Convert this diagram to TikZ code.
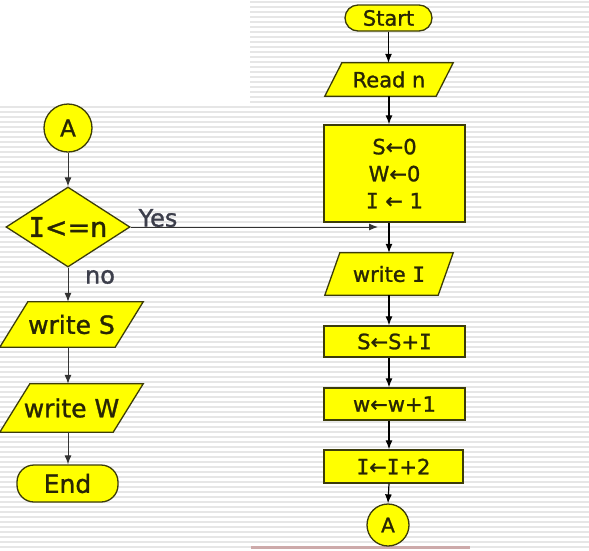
\documentclass[tikz,border=0pt]{standalone}
\usepackage{fontspec}
\setmainfont[FakeBold=1.2]{DejaVu Sans}
\newfontfamily\serifI[FakeBold=1.2]{DejaVu Sans Mono}
\usetikzlibrary{arrows.meta,shapes.geometric}
\pgfdeclarelayer{stripes}
\pgfdeclarelayer{shapesbg}
\pgfsetlayers{stripes,shapesbg,main}
\definecolor{fy}{RGB}{255,255,0}
\definecolor{edgec}{RGB}{60,60,10}
\definecolor{txtc}{RGB}{40,38,5}
\definecolor{lblc}{RGB}{60,62,75}
\definecolor{stripec}{RGB}{230,230,230}
\definecolor{pinkc}{RGB}{205,170,170}
\newcommand\Iv{{\serifI I}}
\newcommand\pgm[2]{\begin{pgfonlayer}{shapesbg}\draw[pgs] ([xshift=#2]#1.north west) -- (#1.north east) -- ([xshift=-#2]#1.south east) -- (#1.south west) -- cycle;\end{pgfonlayer}}
\tikzset{
  rfont/.style={font=\fontsize{21}{27}\selectfont},
  lfont/.style={font=\fontsize{25}{30}\selectfont},
  proc/.style={rectangle, draw=edgec, fill=fy, line width=1.3pt, inner sep=0pt, text=txtc, align=center, rfont},
  term/.style={proc, rounded corners=13pt},
  conn/.style={circle, draw=edgec, fill=fy, line width=1.3pt, inner sep=0pt, text=txtc},
  io/.style={rectangle, inner sep=0pt, text=txtc, align=center},
  pgs/.style={draw=edgec, fill=fy, line width=1.3pt, line join=miter},
  arr/.style={-{Latex[length=9pt,width=7pt]}, line width=1.2pt, black},
  larr/.style={-{Latex[length=9pt,width=7pt]}, line width=1pt, black!80},
  lbl/.style={inner sep=0pt, text=lblc, font=\fontsize{24}{28}\selectfont}
}
\begin{document}
\begin{tikzpicture}[x=1pt,y=-1pt]
\useasboundingbox (0,0) rectangle (589,550);
\begin{pgfonlayer}{stripes}
  \fill[white] (0,0) rectangle (589,550);
  \foreach \yy in {2,7,...,547} {\draw[stripec, line width=2pt] (250,\yy) -- (589,\yy);}
  \foreach \yy in {107,112,...,547} {\draw[stripec, line width=2pt] (0,\yy) -- (250,\yy);}
  \draw[pinkc, line width=2.5pt] (251,547.5) -- (470,547.5);
\end{pgfonlayer}

% right column
\node[term, minimum width=87pt, minimum height=26pt] (start) at (388.5,18) {Start};
\node[io, rfont, minimum width=128pt, minimum height=33pt] (readn) at (389,79.5) {Read n};
\pgm{readn}{17pt}
\node[proc, minimum width=141pt, minimum height=97pt] (init) at (394.5,173.5) {S←0\\W←0\\\Iv{} ← 1};
\node[io, rfont, minimum width=128pt, minimum height=42pt] (writeI) at (389,274) {write \Iv};
\pgm{writeI}{15pt}
\node[proc, minimum width=141pt, minimum height=31pt] (ssi) at (394.5,341.5) {S←S+\Iv};
\node[proc, minimum width=141pt, minimum height=32pt] (ww) at (394.5,404) {w←w+1};
\node[proc, minimum width=139pt, minimum height=33pt] (ii) at (393.5,466.5) {\Iv←\Iv+2};
\node[conn, minimum size=42pt, font=\fontsize{20}{24}\selectfont] (ar) at (388,525) {A};

\draw[arr] (start.south) -- (start.south |- readn.north);
\draw[arr] (readn.south) -- (readn.south |- init.north);
\draw[arr] (readn.south |- init.south) -- (readn.south |- writeI.north);
\draw[arr] (writeI.south) -- (writeI.south |- ssi.north);
\draw[arr] (writeI.south |- ssi.south) -- (writeI.south |- ww.north);
\draw[arr] (writeI.south |- ww.south) -- (writeI.south |- ii.north);
\draw[arr] (writeI.south |- ii.south) -- (ar.north);

% left column
\node[conn, minimum size=48pt, font=\fontsize{23}{26}\selectfont] (al) at (68,128) {A};
\node[diamond, draw=edgec, fill=fy, line width=1.3pt, inner sep=0pt, aspect=1.55, minimum width=124pt, minimum height=80pt, text=txtc, font=\fontsize{27}{30}\selectfont] (dia) at (68,227) {\Iv<=n};
\node[io, lfont, minimum width=143pt, minimum height=45pt] (writeS) at (71.5,324.5) {write S};
\pgm{writeS}{28pt}
\node[io, lfont, minimum width=143pt, minimum height=48pt] (writeW) at (71.5,408) {write W};
\pgm{writeW}{30pt}
\node[term, lfont, rounded corners=17pt, minimum width=101pt, minimum height=37pt] (endn) at (67.5,483.5) {End};

\coordinate (yesend) at (378,227);
\node[lbl] (yes) at (158,218) {Yes};
\node[lbl] (no) at (100,277) {no};

\draw[larr] (al.south) -- (dia.north);
\draw[larr] (dia.east) -- (yesend);
\draw[larr] (dia.south) -- (dia.south |- writeS.north);
\draw[larr] (dia.south |- writeS.south) -- (dia.south |- writeW.north);
\draw[larr] (dia.south |- writeW.south) -- (dia.south |- endn.north);
\end{tikzpicture}
\end{document}
